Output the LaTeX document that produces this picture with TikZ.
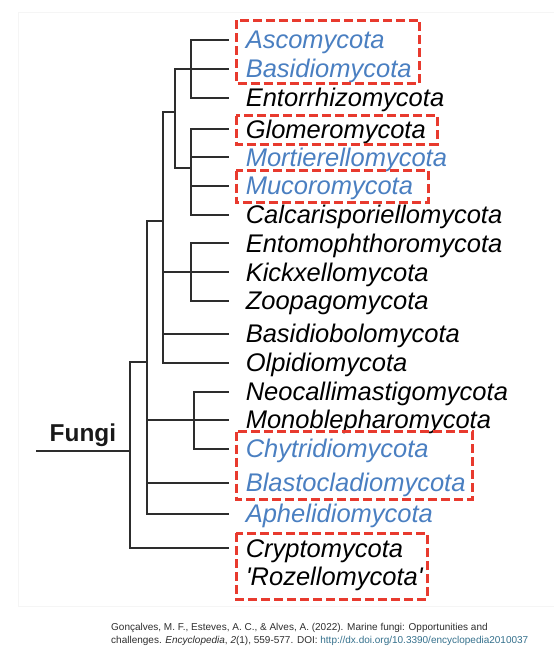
\documentclass[tikz,border=0pt]{standalone}
\usepackage{fontspec}
\setmainfont{Liberation Sans}
\newfontfamily\leaffont{Liberation Sans}[Ligatures=TeXOff]
\definecolor{leafblue}{RGB}{74,127,193}
\definecolor{boxred}{RGB}{232,58,46}
\definecolor{treegray}{RGB}{45,45,45}
\definecolor{citegray}{RGB}{45,45,45}
\definecolor{linkteal}{RGB}{52,112,140}
\definecolor{paneledge}{RGB}{245,245,245}
\begin{document}
\begin{tikzpicture}[x=1pt,y=-1pt,
  branch/.style={draw=treegray, line width=2pt, line cap=rect},
  leaf/.style={anchor=west, inner xsep=17.6pt, inner ysep=0pt, text height=17.5pt, text depth=0pt,
    font=\leaffont\itshape\fontsize{25.5}{29}\selectfont, text=black},
  blueleaf/.style={leaf, text=leafblue},
  redbox/.style={draw=boxred, line width=3pt, dash pattern=on 9pt off 4pt},
  fungilabel/.style={anchor=base west, inner sep=0pt, font=\bfseries\fontsize{24.4}{28}\selectfont, text=black!90},
  citeline/.style={anchor=base west, inner sep=0pt, font=\fontsize{10}{12}\selectfont, text=citegray}]
\useasboundingbox (0,0) rectangle (554,654);
% faint panel edge
\draw[paneledge, line width=0.8pt] (18,12) rectangle (560,606);
% leaves
\node[blueleaf] (asco)   at (228,40)    {Ascomycota};
\node[blueleaf] (basid)  at (228,69)    {Basidiomycota};
\node[leaf]     (entorr) at (228,98)    {Entorrhizomycota};
\node[leaf]     (glom)   at (228,129.3) {Glomeromycota};
\node[blueleaf] (mort)   at (228,157.3) {Mortierellomycota};
\node[blueleaf] (muco)   at (228,186)   {Mucoromycota};
\node[leaf]     (calc)   at (228,215)   {Calcarisporiellomycota};
\node[leaf]     (ento)   at (228,243.3) {Entomophthoromycota};
\node[leaf]     (kick)   at (228,272.3) {Kickxellomycota};
\node[leaf]     (zoop)   at (228,300.7) {Zoopagomycota};
\node[leaf]     (basb)   at (228,334)   {Basidiobolomycota};
\node[leaf]     (olp)    at (228,363)   {Olpidiomycota};
\node[leaf]     (neo)    at (228,391.7) {Neocallimastigomycota};
\node[leaf]     (mono)   at (228,420)   {Monoblepharomycota};
\node[blueleaf] (chyt)   at (228,449)   {Chytridiomycota};
\node[blueleaf] (blas)   at (228,483)   {Blastocladiomycota};
\node[blueleaf] (aph)    at (228,514)   {Aphelidiomycota};
\node[leaf]     (cryp)   at (228,548.3) {Cryptomycota};
\node[leaf]     (roz)    at (228,577)   {'Rozellomycota'};
% internal nodes
\coordinate (dik)  at (190.8,69);
\coordinate (muc)  at (190.8,168);
\coordinate (zoo)  at (190.8,272.3);
\coordinate (chy)  at (193.6,420);
\coordinate (n4)   at (175,112);
\coordinate (n3)   at (162.5,221);
\coordinate (n2)   at (146.6,362);
\coordinate (root) at (130,451);
\coordinate (fstart) at (37,451);
% Dikarya
\draw[branch] (dik |- asco.west) -- (dik |- entorr.west);
\foreach \l in {asco,basid,entorr} \draw[branch] (dik |- \l.west) -- (\l.west);
% Mucoromycota clade
\draw[branch] (muc |- glom.west) -- (muc |- calc.west);
\foreach \l in {glom,mort,muco,calc} \draw[branch] (muc |- \l.west) -- (\l.west);
% Zoopagomycota clade
\draw[branch] (zoo |- ento.west) -- (zoo |- zoop.west);
\foreach \l in {ento,kick,zoop} \draw[branch] (zoo |- \l.west) -- (\l.west);
% Chytrid clade
\draw[branch] (chy |- neo.west) -- (chy |- chyt.west);
\foreach \l in {neo,mono,chyt} \draw[branch] (chy |- \l.west) -- (\l.west);
% n4
\draw[branch] (n4 |- dik) -- (n4 |- muc);
\draw[branch] (n4 |- dik) -- (dik);
\draw[branch] (n4 |- muc) -- (muc);
% n3
\draw[branch] (n3 |- n4) -- (n3 |- olp.west);
\draw[branch] (n3 |- n4) -- (n4);
\draw[branch] (n3 |- zoo) -- (zoo);
\draw[branch] (n3 |- basb.west) -- (basb.west);
\draw[branch] (n3 |- olp.west) -- (olp.west);
% n2
\draw[branch] (n2 |- n3) -- (n2 |- aph.west);
\draw[branch] (n2 |- n3) -- (n3);
\draw[branch] (n2 |- chy) -- (chy);
\draw[branch] (n2 |- blas.west) -- (blas.west);
\draw[branch] (n2 |- aph.west) -- (aph.west);
% root
\draw[branch] (root |- n2) -- (root |- cryp.west);
\draw[branch] (root |- n2) -- (n2);
\draw[branch] (root |- cryp.west) -- (cryp.west);
\draw[branch] (fstart) -- (root);
\node[fungilabel] (fungi) at (49.5,441) {Fungi};
% highlight boxes
\draw[redbox] (236,20) rectangle (419.5,83.3);
\draw[redbox] (236,115.7) rectangle (437,144);
\draw[redbox] (236,170.7) rectangle (428.6,202.7);
\draw[redbox] (236,431.7) rectangle (472.8,499.3);
\draw[redbox] (236,533.3) rectangle (427,599.3);
% citation
\node[citeline] (cite1) at (111,630.5) {Gonçalves, M. F., Esteves, A. C., \& Alves, A. (2022). Marine fungi: Opportunities and};
\node[citeline] (cite2) at (111,643.5) {challenges. \textit{Encyclopedia}, \textit{2}(1), 559-577. DOI: \textcolor{linkteal}{http://dx.doi.org/10.3390/encyclopedia2010037}};
\end{tikzpicture}
\end{document}
